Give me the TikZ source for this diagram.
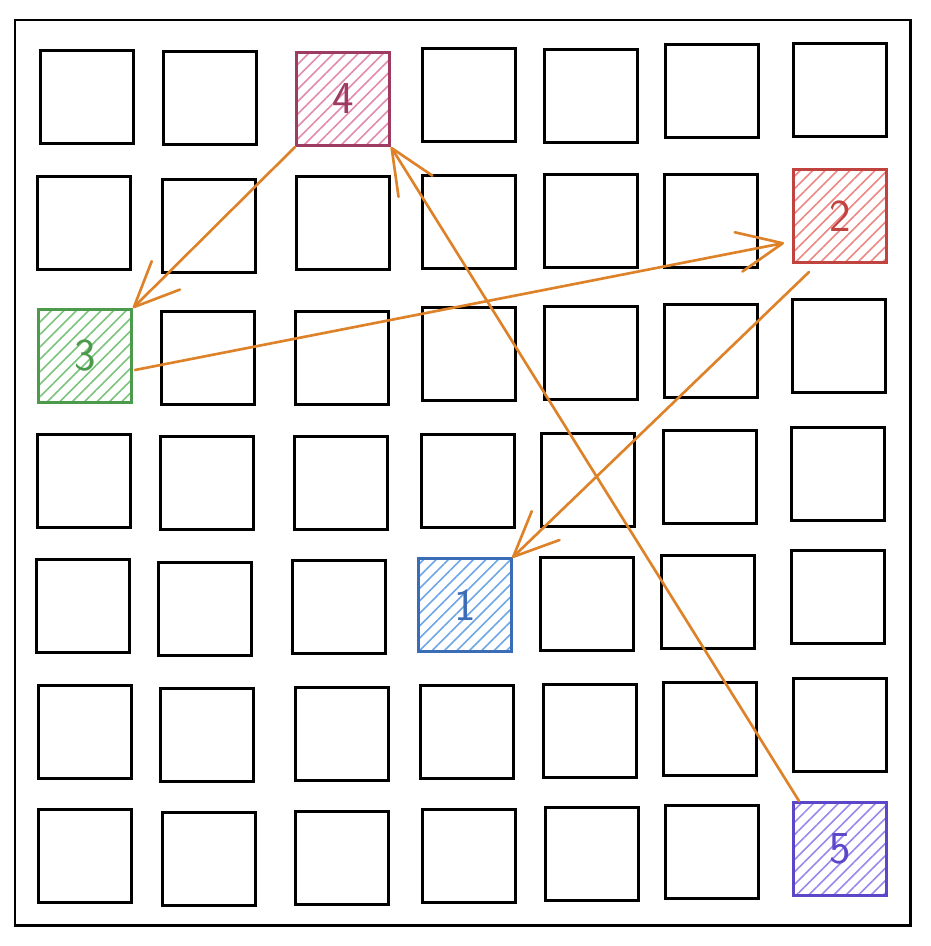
\documentclass[tikz,border=0pt]{standalone}
\usepackage{tikz}
\usetikzlibrary{patterns.meta,arrows.meta}

\definecolor{pinkline}{HTML}{9E3B63}
\definecolor{pinkfill}{HTML}{E38BAC}
\definecolor{redline}{HTML}{C0433F}
\definecolor{redfill}{HTML}{EE8784}
\definecolor{greenline}{HTML}{4C9A4C}
\definecolor{greenfill}{HTML}{7BC47B}
\definecolor{blueline}{HTML}{3A6DB5}
\definecolor{bluefill}{HTML}{6EA6E6}
\definecolor{violetline}{HTML}{5B47C8}
\definecolor{violetfill}{HTML}{9888EE}
\definecolor{hopline}{HTML}{DD8228}

\tikzset{
  cell/.style={draw=black,line width=1.7pt,minimum size=1.86cm,inner sep=0pt},
  hatched/.style 2 args={cell,draw=#1,text=#1,
    pattern={Lines[angle=45,distance=5pt,line width=0.9pt]},pattern color=#2,
    font=\sffamily\fontsize{26}{26}\selectfont},
  hop/.style={draw=hopline,line width=1.5pt,line cap=round,
    -{Straight Barb[length=0.9cm,width=0.8cm,round]}}
}

\begin{document}
\begin{tikzpicture}[x=0.02cm,y=-0.02cm]

\fill[white] (0,0) rectangle (930,946);
\useasboundingbox (0,0) rectangle (930,946);

% outer frame:
\draw[black,line width=1.7pt] (15,20) rectangle (910,925);

% grid squares:
\node[cell] (c00) at (87,97) {};
\node[cell] (c01) at (210,98) {};
\node[cell] (c03) at (469,95) {};
\node[cell] (c04) at (591,96) {};
\node[cell] (c05) at (712,91) {};
\node[cell] (c06) at (840,90) {};
\node[cell] (c10) at (84,223) {};
\node[cell] (c11) at (209,226) {};
\node[cell] (c12) at (343,223) {};
\node[cell] (c13) at (469,222) {};
\node[cell] (c14) at (591,221) {};
\node[cell] (c15) at (711,221) {};
\node[cell] (c21) at (208,358) {};
\node[cell] (c22) at (342,358) {};
\node[cell] (c23) at (469,354) {};
\node[cell] (c24) at (591,353) {};
\node[cell] (c25) at (711,351) {};
\node[cell] (c26) at (839,346) {};
\node[cell] (c30) at (84,481) {};
\node[cell] (c31) at (207,483) {};
\node[cell] (c32) at (341,483) {};
\node[cell] (c33) at (468,481) {};
\node[cell] (c34) at (588,480) {};
\node[cell] (c35) at (710,477) {};
\node[cell] (c36) at (838,474) {};
\node[cell] (c40) at (83,606) {};
\node[cell] (c41) at (205,609) {};
\node[cell] (c42) at (339,607) {};
\node[cell] (c44) at (587,604) {};
\node[cell] (c45) at (708,602) {};
\node[cell] (c46) at (838,597) {};
\node[cell] (c50) at (85,732) {};
\node[cell] (c51) at (207,735) {};
\node[cell] (c52) at (342,734) {};
\node[cell] (c53) at (467,732) {};
\node[cell] (c54) at (590,731) {};
\node[cell] (c55) at (710,729) {};
\node[cell] (c56) at (840,725) {};
\node[cell] (c60) at (85,856) {};
\node[cell] (c61) at (209,859) {};
\node[cell] (c62) at (342,858) {};
\node[cell] (c63) at (469,856) {};
\node[cell] (c64) at (592,854) {};
\node[cell] (c65) at (712,852) {};

% visited squares:
\node[hatched={blueline}{bluefill}] (n1) at (465,605) {1};
\node[hatched={redline}{redfill}] (n2) at (840,216) {2};
\node[hatched={greenline}{greenfill}] (n3) at (85,356) {3};
\node[hatched={pinkline}{pinkfill}] (n4) at (343,99) {4};
\node[hatched={violetline}{violetfill}] (n5) at (840,849) {5};

% hops:
\draw[hop] ([xshift=0.14cm]n5.north west) -- (n4.south east);
\draw[hop] (n4.south west) -- (n3.north east);
\draw[hop] ([xshift=0.04cm,yshift=-0.28cm]n3.east) -- ([xshift=-0.16cm,yshift=-0.54cm]n2.west);
\draw[hop] ([xshift=0.34cm,yshift=-0.16cm]n2.south west) -- (n1.north east);

\end{tikzpicture}
\end{document}
